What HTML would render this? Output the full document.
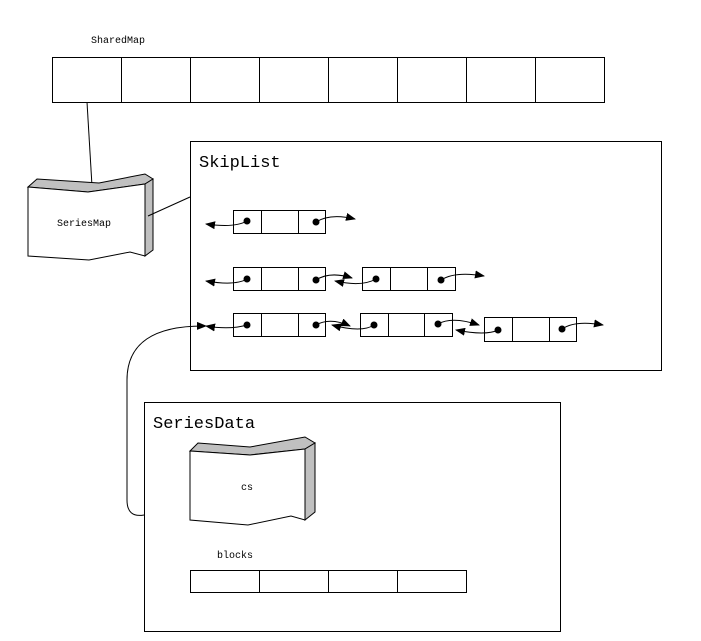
<!DOCTYPE html>
<html><head><style>body{margin:0;background:#fff}svg{display:block}</style></head><body>
<svg width="701" height="641" xmlns="http://www.w3.org/2000/svg" font-family="Liberation Mono, monospace">
<defs><marker id="a" markerWidth="10" markerHeight="8" refX="9" refY="4" orient="auto" markerUnits="userSpaceOnUse"><path d="M0,0L10,4L0,8z" fill="#000"/></marker></defs>
<g fill="none" stroke="#000" stroke-width="1">
<text x="91" y="43" font-size="10" stroke="none" fill="#000">SharedMap</text>
<rect x="52.5" y="57.5" width="552" height="45"/>
<path d="M121.5 57v46M190.5 57v46M259.5 57v46M328.5 57v46M397.5 57v46M466.5 57v46M535.5 57v46"/>
<line x1="87" y1="102" x2="92" y2="186"/>
<!-- SeriesMap -->
<path d="M28 187L37 179L99 183L145 174L153 179L145 184L88 192Z" fill="#c0c0c0"/>
<path d="M145 184L153 179L153 250L145 256Z" fill="#c0c0c0"/>
<path d="M28 187L88 192L145 184L145 256L130 252L89 260L28 256Z" fill="#fff"/>
<text x="57" y="226" font-size="10" stroke="none" fill="#000">SeriesMap</text>
<line x1="148" y1="216" x2="190" y2="197"/>
<rect x="190.5" y="141.5" width="471" height="229"/>
<text x="199" y="167" font-size="17" stroke="none" fill="#000">SkipList</text>
<!-- row1 -->
<rect x="233.5" y="210.5" width="92" height="23"/><path d="M261.5 210v24M298.5 210v24"/>
<!-- row2 -->
<rect x="233.5" y="267.5" width="92" height="23"/><path d="M261.5 267v24M298.5 267v24"/>
<rect x="362.5" y="267.5" width="93" height="23"/><path d="M390.5 267v24M427.5 267v24"/>
<!-- row3 -->
<rect x="233.5" y="313.5" width="92" height="23"/><path d="M261.5 313v24M298.5 313v24"/>
<rect x="360.5" y="313.5" width="92" height="23"/><path d="M388.5 313v24M424.5 313v24"/>
<rect x="484.5" y="317.5" width="92" height="24"/><path d="M512.5 317v25M549.5 317v25"/>
<!-- arrows -->
<g marker-end="url(#a)">
<path d="M247 221Q235 228 206 224"/><path d="M316 222Q330 213 355 219"/>
<path d="M247 279Q235 286 206 281"/><path d="M316 280Q330 271 352 278"/>
<path d="M376 279Q362 287 335 281"/><path d="M441 280Q455 271 484 276"/>
<path d="M247 325Q230 330 206 326"/><path d="M316 325Q330 317 350 326"/>
<path d="M374 325Q362 333 332 325"/><path d="M438 324Q452 316 479 325"/>
<path d="M498 330Q486 336 456 330"/><path d="M562 329Q575 320 603 325"/>
<path d="M144 515Q127 518 127 500L127 380Q127 325 206 326"/>
</g>
<g fill="#000"><circle cx="247" cy="221" r="3"/><circle cx="316" cy="222" r="3"/>
<circle cx="247" cy="279" r="3"/><circle cx="316" cy="280" r="3"/><circle cx="376" cy="279" r="3"/><circle cx="441" cy="280" r="3"/>
<circle cx="247" cy="325" r="3"/><circle cx="316" cy="325" r="3"/><circle cx="374" cy="325" r="3"/><circle cx="438" cy="324" r="3"/><circle cx="498" cy="330" r="3"/><circle cx="562" cy="329" r="3"/></g>
<rect x="144.5" y="402.5" width="416" height="229"/>
<text x="153" y="428" font-size="17" stroke="none" fill="#000">SeriesData</text>
<!-- cs -->
<path d="M190 451L198 443L250 447L305 437L315 443L305 449L250 455Z" fill="#c0c0c0"/>
<path d="M305 449L315 443L315 512L305 520Z" fill="#c0c0c0"/>
<path d="M190 451L250 455L305 449L305 520L291 516L248 525L190 520Z" fill="#fff"/>
<text x="241" y="490" font-size="10" stroke="none" fill="#000">cs</text>
<text x="217" y="558" font-size="10" stroke="none" fill="#000">blocks</text>
<rect x="190.5" y="570.5" width="276" height="22"/><path d="M259.5 570v23M328.5 570v23M397.5 570v23"/>
</g>
</svg>
</body></html>
